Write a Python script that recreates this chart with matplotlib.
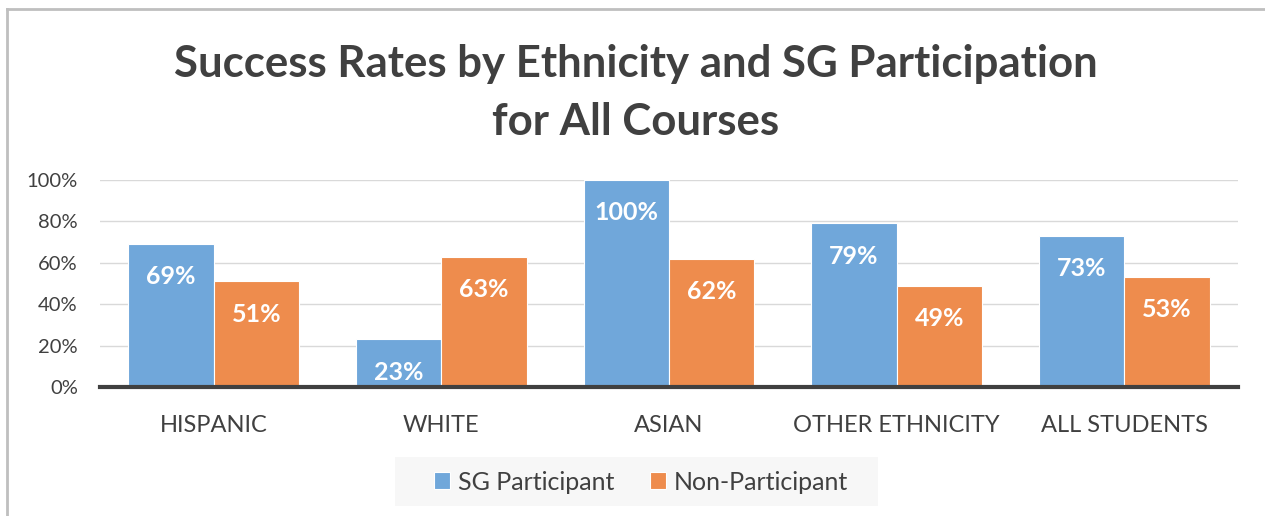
import matplotlib
matplotlib.use("Agg")
import matplotlib.pyplot as plt
import numpy as np
from matplotlib.lines import Line2D
from matplotlib.patches import Rectangle
from matplotlib.ticker import FuncFormatter

categories = ["HISPANIC", "WHITE", "ASIAN", "OTHER ETHNICITY", "ALL STUDENTS"]
sg_participant = [69, 23, 100, 79, 73]
non_participant = [51, 63, 62, 49, 53]
series_names = ["SG Participant", "Non-Participant"]
title = "Success Rates by Ethnicity and SG Participation\nfor All Courses"

FONT = ["Lato", "DejaVu Sans"]
plt.rcParams["font.family"] = FONT

W, H = 1265, 516
fig = plt.figure(figsize=(W / 100, H / 100), dpi=100)
fig.patch.set_facecolor("white")

ax = fig.add_axes([100 / W, 1 - 387 / H, 1138 / W, 207 / H])

blue = "#70A7DA"
orange = "#EE8C4D"
bw = 0.375
x = np.arange(len(categories))
b1 = ax.bar(x - bw / 2, sg_participant, bw, color=blue, edgecolor="white", linewidth=0.8, zorder=3)
b2 = ax.bar(x + bw / 2, non_participant, bw, color=orange, edgecolor="white", linewidth=0.8, zorder=3)

for bars, vals in ((b1, sg_participant), (b2, non_participant)):
    for r, v in zip(bars, vals):
        ax.annotate(f"{v}%", (r.get_x() + r.get_width() / 2, v), xytext=(0, -23.5),
                    textcoords="offset points", ha="center", va="center",
                    color="white", fontsize=18, fontweight="bold", zorder=4)

ax.set_xlim(-0.5, len(categories) - 0.5)
ax.set_ylim(0, 100)
ax.set_yticks(range(0, 101, 20))
ax.yaxis.set_major_formatter(FuncFormatter(lambda v, p: f"{int(v)}%"))
ax.set_xticks(x)
ax.set_xticklabels(categories)
ax.tick_params(axis="both", length=0, colors="#404040")
ax.tick_params(axis="x", pad=20, labelsize=17)
ax.tick_params(axis="y", pad=16, labelsize=14.5)
ax.grid(axis="y", color="#D9D9D9", linewidth=1, zorder=0)
for s in ("top", "right", "left"):
    ax.spines[s].set_visible(False)
ax.spines["bottom"].set_color("#404040")
ax.spines["bottom"].set_linewidth(3)
ax.spines["bottom"].set_zorder(5)

fig.text(636 / W, 1 - 93 / H, title, ha="center", va="center", fontsize=31.5,
         fontweight="bold", color="#404040", linespacing=1.52)

# legend background panel
fig.add_artist(Rectangle((395 / W, 1 - 506 / H), 483 / W, 49 / H, transform=fig.transFigure,
                         facecolor="#F7F7F7", edgecolor="none", zorder=0))
leg = fig.legend([b1, b2], series_names, loc="center", bbox_to_anchor=(641 / W, 1 - 482 / H),
                 ncol=2, frameon=False, fontsize=18, handlelength=0.65, handleheight=0.65,
                 columnspacing=1.45, handletextpad=0.3, borderpad=0.3)
for t in leg.get_texts():
    t.set_color("#404040")

fig.add_artist(Line2D([7 / W, 7 / W], [0, 1 - 9 / H], transform=fig.transFigure, color="#BFBFBF", lw=2))
fig.add_artist(Line2D([7 / W, 1], [1 - 9 / H, 1 - 9 / H], transform=fig.transFigure, color="#BFBFBF", lw=2))

fig.savefig("out.png", dpi=100)
